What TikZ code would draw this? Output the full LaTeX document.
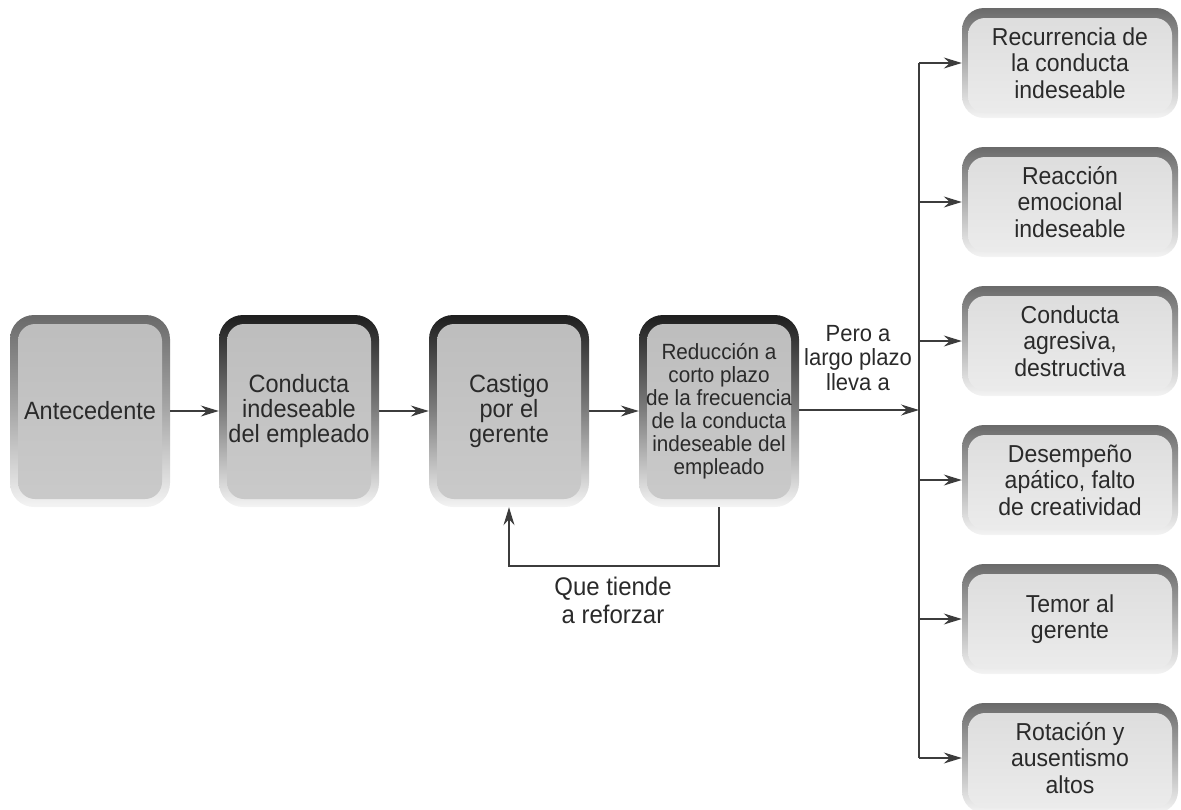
\documentclass[tikz,border=0pt]{standalone}
\usepackage{fontspec}
\setmainfont[FakeStretch=0.94]{Liberation Sans}
\usetikzlibrary{arrows.meta}
\definecolor{ink}{HTML}{2A2A2A}
\definecolor{wire}{HTML}{3C3C3C}
\definecolor{rimdark}{HTML}{1E1E1E}
\definecolor{rimmid}{HTML}{6A6A6A}
\definecolor{rimlight}{HTML}{F4F4F4}
\definecolor{facegray}{HTML}{BDBDBD}
\definecolor{facegraylow}{HTML}{CACACA}
\definecolor{facepale}{HTML}{DCDCDC}
\definecolor{facepalelow}{HTML}{ECECEC}
\begin{document}
\begin{tikzpicture}[x=1pt,y=-1pt,
  every node/.style={text=ink, align=center, inner sep=0pt},
  conn/.style={draw=wire, line width=1.6pt},
  arr/.style={conn, -{Stealth[length=18pt,width=11pt,inset=6pt]}},
  % tall boxes of the main chain: dark rim fading downwards, grey face
  chainbox/.style={rounded corners=24pt, minimum width=160pt, minimum height=192pt,
    top color=#1, bottom color=rimlight, middle color=#1!55!rimlight,
    font=\fontsize{25}{25}\selectfont,
    path picture={\shade[rounded corners=17pt, top color=facegray, bottom color=facegraylow]
      ([shift={(8pt,-9pt)}]path picture bounding box.north west) rectangle
      ([shift={(-8pt,8pt)}]path picture bounding box.south east);}},
  % boxes of the long-term outcomes: paler face
  outbox/.style={rounded corners=22pt, minimum width=216pt, minimum height=110pt,
    top color=rimmid, bottom color=rimlight, middle color=rimmid!50!rimlight,
    font=\fontsize{24.5}{26.5}\selectfont,
    path picture={\shade[rounded corners=17pt, top color=facepale, bottom color=facepalelow]
      ([shift={(6pt,-10pt)}]path picture bounding box.north west) rectangle
      ([shift={(-6pt,5pt)}]path picture bounding box.south east);}}
]
\useasboundingbox (0,0) rectangle (1181,809);

% main chain
\node[chainbox=rimmid]  (ante) at (90,411)  {Antecedente};
\node[chainbox=rimdark] (cond) at (299,411) {Conducta\\indeseable\\del empleado};
\node[chainbox=rimdark] (cast) at (509,411) {Castigo\\por el\\gerente};
\node[chainbox=rimdark, font=\fontsize{22}{23}\selectfont] (redu) at (719,411)
  {Reducción a\\corto plazo\\de la frecuencia\\de la conducta\\indeseable del\\empleado};

\draw[arr] (ante) -- (cond);
\draw[arr] (cond) -- (cast);
\draw[arr] (cast) -- (redu);

% reinforcing loop
\draw[arr] (redu.south) -- ++(0,59) -| (cast.south);
\node[font=\fontsize{25.5}{28}\selectfont] (loop) at (613,600) {Que tiende\\a reforzar};

% long-term outcomes
\node[outbox] (r1) at (1070,63)  {Recurrencia de\\la conducta\\indeseable};
\node[outbox] (r2) at (1070,202) {Reacción\\emocional\\indeseable};
\node[outbox] (r3) at (1070,341) {Conducta\\agresiva,\\destructiva};
\node[outbox] (r4) at (1070,480) {Desempeño\\apático, falto\\de creatividad};
\node[outbox] (r5) at (1070,619) {Temor al\\gerente};
\node[outbox] (r6) at (1070,758) {Rotación y\\ausentismo\\altos};

\coordinate (split) at (919,410);
\draw[arr] (redu.east |- split) -- (split);
\node[font=\fontsize{23.4}{24.5}\selectfont] (lbl) at (858,358) {Pero a\\largo plazo\\lleva a};

\draw[conn] (r1.west -| split) -- (r6.west -| split);
\foreach \i in {1,...,6}
  \draw[arr] (r\i.west -| split) -- (r\i.west);
\end{tikzpicture}
\end{document}
